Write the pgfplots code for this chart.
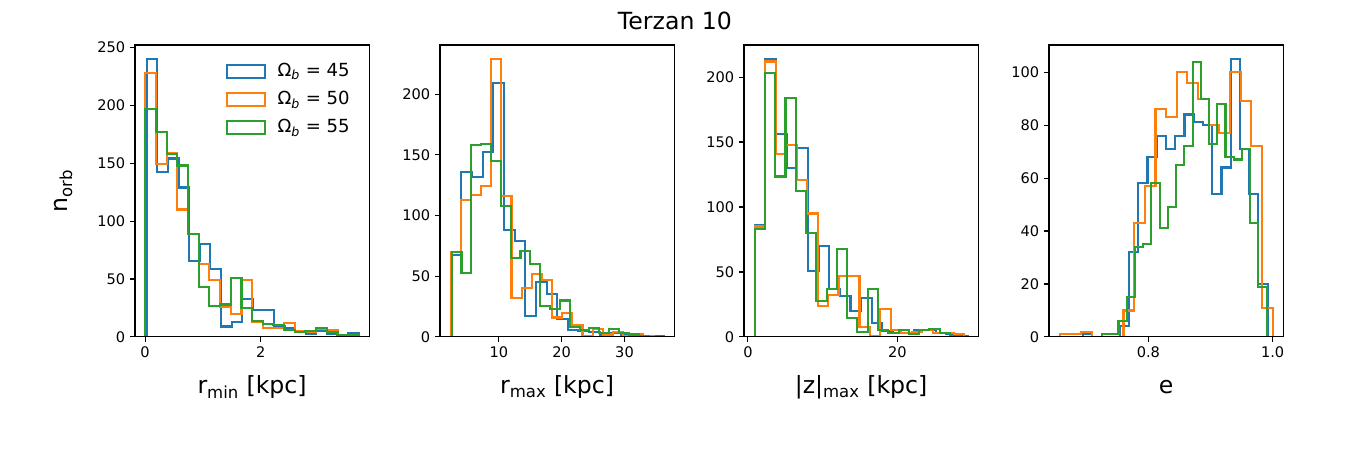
\documentclass[border=0pt]{standalone}
\usepackage{fontspec}
\setmainfont{DejaVu Sans}
\usepackage{pgfplots}
\pgfplotsset{compat=1.18}
\definecolor{c0}{HTML}{1F77B4}
\definecolor{c1}{HTML}{FF7F0E}
\definecolor{c2}{HTML}{2CA02C}
\pgfplotsset{
  panel/.style={
    scale only axis, width=168.6pt, height=210.2pt,
    axis line style={line width=0.8pt},
    every tick/.style={black, line width=0.8pt},
    major tick length=3.5pt,
    tick align=outside, tick pos=left,
    tick label style={font=\fontsize{10.5}{12}\selectfont},
    /pgf/number format/assume math mode=true,
    ymin=0, axis on top,
    xlabel style={at={(axis description cs:0.5,0)}, anchor=base, yshift=-41pt, font=\fontsize{17}{20}\selectfont, inner sep=0pt},
    ylabel style={at={(axis description cs:-0.305,0.5)}, anchor=center, font=\fontsize{17}{20}\selectfont, inner sep=0pt},
  },
  hb/.style={c0, line width=1.5pt, const plot mark right},
  ho/.style={c1, line width=1.5pt, const plot mark right},
  hg/.style={c2, line width=1.5pt, const plot mark right},
}
\begin{document}
\begin{tikzpicture}
\fill[white] (0,0) rectangle (972pt,324pt);
\path[use as bounding box] (0,0) rectangle (972pt,324pt);
\node[anchor=base, font=\fontsize{17}{20}\selectfont, inner sep=0pt] at (486pt,302.5pt) {Terzan 10};

% Panel 1
\begin{axis}[panel, at={(97.2pt,81.4pt)}, anchor=south west,
  xmin=-0.174, xmax=3.874, ymax=252,
  xtick={0,2}, ytick={0,50,100,150,200,250},
  xlabel={r\textsubscript{min} [kpc]}, ylabel={n\textsubscript{orb}},
  legend style={draw=none, fill=none, at={(axis description cs:0.918,0.942)}, anchor=north east, inner sep=0pt, row sep=7.2pt, column sep=0pt, font=\fontsize{13}{15}\selectfont, nodes={inner sep=0pt, text height=10pt, text depth=3pt}},
  legend cell align=left,
  legend image code/.code={\draw[#1] (0pt,-4.6pt) rectangle (27.4pt,4.6pt); \path (35.4pt,0pt);},
]
\addplot[hb] coordinates {(0.029,0) (0.2123,240) (0.3956,142) (0.5789,154) (0.7622,129) (0.9455,65.5) (1.1288,80) (1.3121,59) (1.4954,9) (1.6787,13) (1.862,33) (2.0453,23) (2.2286,23) (2.4119,9) (2.5952,8) (2.7785,5) (2.9618,3) (3.1451,5) (3.3284,3) (3.5117,2) (3.695,3) (3.695,0)};
\addlegendentry{Ω\textsubscript{\textit{b}} = 45}
\addplot[ho] coordinates {(0.006,0) (0.1905,228) (0.375,149) (0.5595,159) (0.744,110) (0.9285,89) (1.113,63) (1.2975,49) (1.482,26) (1.6665,20) (1.851,49) (2.0355,13) (2.22,7.5) (2.4045,8) (2.589,12) (2.7735,5.5) (2.958,4) (3.1425,7) (3.327,6) (3.5115,2) (3.696,2) (3.696,0)};
\addlegendentry{Ω\textsubscript{\textit{b}} = 50}
\addplot[hg] coordinates {(0.006,0) (0.1905,197) (0.375,177) (0.5595,158) (0.744,148) (0.9285,88.5) (1.113,43) (1.2975,27) (1.482,28) (1.6665,51) (1.851,25) (2.0355,14) (2.22,11) (2.4045,10) (2.589,6) (2.7735,4) (2.958,5) (3.1425,7.5) (3.327,4) (3.5115,2) (3.696,2) (3.696,0)};
\addlegendentry{Ω\textsubscript{\textit{b}} = 55}
\end{axis}

% Panel 2
\begin{axis}[panel, at={(316.8pt,81.4pt)}, anchor=south west,
  xmin=0.64, xmax=37.9, ymax=240.5,
  xtick={10,20,30}, ytick={0,50,100,150,200},
  xlabel={r\textsubscript{max} [kpc]},
]
\addplot[hb] coordinates {(2.33,0) (4.026,67.5) (5.722,136) (7.418,132) (9.114,152.5) (10.81,209) (12.506,88) (14.202,79) (15.898,17) (17.594,45) (19.29,35) (20.986,15) (22.682,6) (24.378,5) (26.074,4) (27.77,2) (29.466,3) (31.162,2) (32.858,2) (34.554,1) (36.25,1) (36.25,0)};
\addplot[ho] coordinates {(2.33,0) (3.944,70) (5.558,113) (7.172,117) (8.786,124) (10.4,229) (12.014,116) (13.628,32) (15.242,40) (16.856,52) (18.47,47) (20.084,16) (21.698,20) (23.312,10) (24.926,1) (26.54,6.5) (28.154,2) (29.768,4) (31.382,1) (32.996,2) (34.61,1) (34.61,0)};
\addplot[hg] coordinates {(2.49,0) (4.056,70) (5.622,53) (7.188,158) (8.754,159) (10.32,145) (11.886,108) (13.452,65) (15.018,71) (16.584,60) (18.15,25.5) (19.716,23) (21.282,30) (22.848,8.5) (24.414,6) (25.98,7) (27.546,3) (29.112,6.5) (30.678,3) (32.244,2) (33.81,1) (33.81,0)};
\end{axis}

% Panel 3
\begin{axis}[panel, at={(535.7pt,81.4pt)}, anchor=south west,
  xmin=-0.52, xmax=30.8, ymax=224.7,
  xtick={0,20}, ytick={0,50,100,150,200},
  xlabel={|z|\textsubscript{max} [kpc]},
]
\addplot[hb] coordinates {(0.9,0) (2.324,86) (3.748,214) (5.172,156) (6.596,130) (8.02,145.5) (9.444,51) (10.868,70) (12.292,36.6) (13.716,31.5) (15.14,20) (16.564,30) (17.988,10.5) (19.412,4.9) (20.836,2.8) (22.26,3) (23.684,5.4) (25.108,5) (26.532,3) (27.956,2) (29.38,1) (29.38,0)};
\addplot[ho] coordinates {(0.9,0) (2.302,85) (3.704,212) (5.106,141) (6.508,148) (7.91,120.5) (9.312,95) (10.714,24) (12.116,32) (13.518,47) (14.92,47) (16.322,8) (17.724,1) (19.126,21.7) (20.528,5) (21.93,3) (23.332,4) (24.734,5) (26.136,3) (27.538,3) (28.94,2) (28.94,0)};
\addplot[hg] coordinates {(0.9,0) (2.275,83) (3.65,203) (5.025,123.5) (6.4,184) (7.775,112) (9.15,80) (10.525,28) (11.9,37) (13.275,68) (14.65,14.5) (16.025,4) (17.4,37) (18.775,5) (20.15,3) (21.525,5) (22.9,2) (24.275,5) (25.65,6) (27.025,3) (28.4,1) (28.4,0)};
\end{axis}

% Panel 4
\begin{axis}[panel, at={(755.3pt,81.4pt)}, anchor=south west,
  xmin=0.640, xmax=1.017, ymax=110.25,
  xtick={0.8,1.0}, xticklabels={0.8,1.0}, ytick={0,20,40,60,80,100},
  xlabel={e},
]
\addplot[hb] coordinates {(0.6944,0) (0.70928,1) (0.72416,0) (0.73904,0) (0.75392,0) (0.7688,4) (0.78368,32) (0.79856,58) (0.81344,68) (0.82832,76) (0.8432,71) (0.85808,76) (0.87296,84) (0.88784,81) (0.90272,80) (0.9176,54) (0.93248,64) (0.94736,105) (0.96224,71) (0.97712,54) (0.992,20) (0.992,0)};
\addplot[ho] coordinates {(0.657,0) (0.67415,1) (0.6913,1) (0.70845,2) (0.7256,0) (0.74275,0) (0.7599,0) (0.77705,10) (0.7942,43) (0.81135,57) (0.8285,86) (0.84565,83) (0.8628,100) (0.87995,96) (0.8971,90) (0.91425,80) (0.9314,77) (0.94855,100) (0.9657,89) (0.98285,72) (1.0,11) (1.0,0)};
\addplot[hg] coordinates {(0.7253,0) (0.73855,1) (0.7518,1) (0.76505,6) (0.7783,15) (0.79155,34) (0.8048,35) (0.81805,58) (0.8313,41) (0.84455,49) (0.8578,65) (0.87105,72) (0.8843,104) (0.89755,90) (0.9108,73) (0.92405,88) (0.9373,68) (0.95055,67) (0.9638,71) (0.97705,43) (0.9903,19) (0.9903,0)};
\end{axis}
\end{tikzpicture}
\end{document}
